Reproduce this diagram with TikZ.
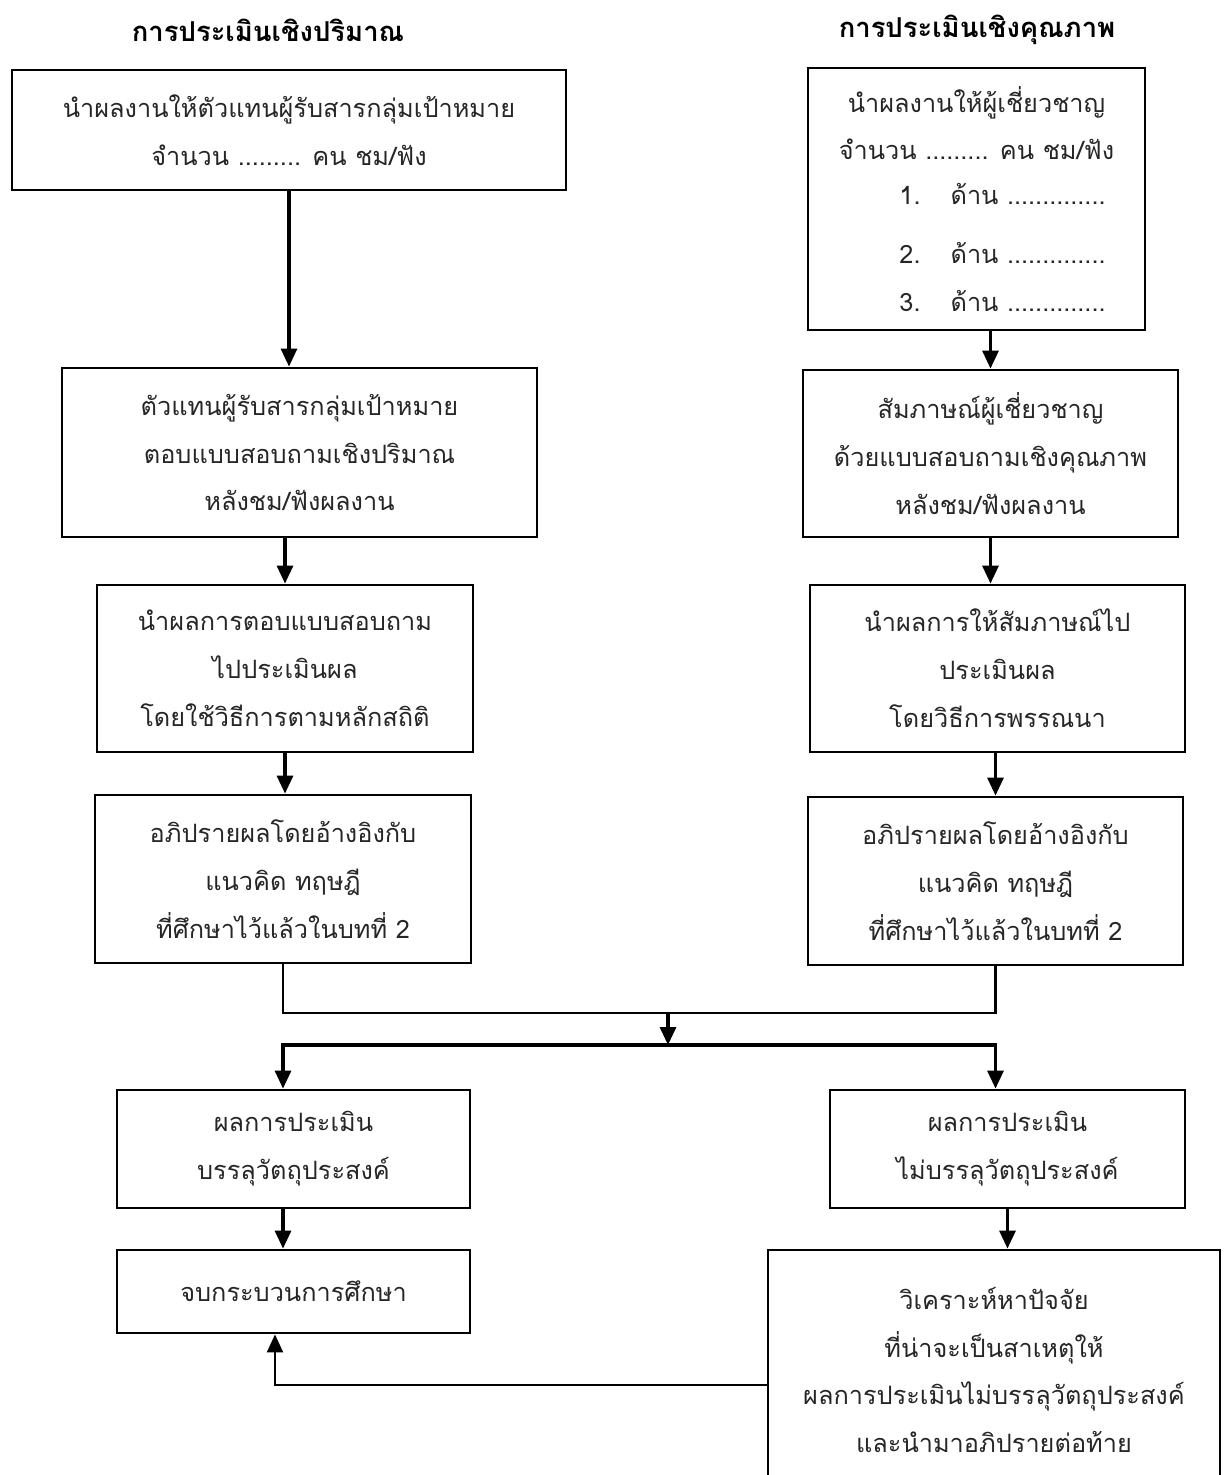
\documentclass[tikz,border=0pt]{standalone}
\usepackage{fontspec}
\setmainfont[Script=Thai]{Loma}
\usetikzlibrary{arrows.meta,positioning}
\tikzset{
  basic/.style  = {draw, line width=2pt, rectangle, inner sep=0pt},
  stepbox/.style = {basic, align=center, text=black!85,
                   font=\fontsize{18}{34}\selectfont},
  heading/.style = {font=\bfseries\fontsize{19.5}{22}\selectfont},
  link/.style = {line width=2.2pt},
  flow/.style = {link, -{Triangle[length=0.45cm,width=0.4cm]}}
}

\begin{document}
\begin{tikzpicture}[x=0.025cm,y=-0.025cm]
\useasboundingbox (0,0) rectangle (1227,1475);
\node[heading] (tq) at (268,30) {การประเมินเชิงปริมาณ};
\node[heading] (tl) at (977,30) {การประเมินเชิงคุณภาพ};
% left column
\node[stepbox, minimum width=13.85cm, minimum height=3cm] (L1) at (289,130)
  {นำผลงานให้ตัวแทนผู้รับสารกลุ่มเป้าหมาย\\จำนวน ......... คน ชม/ฟัง};
\node[stepbox, minimum width=11.875cm, minimum height=4.225cm] (L2) at (299.5,452.5)
  {ตัวแทนผู้รับสารกลุ่มเป้าหมาย\\ตอบแบบสอบถามเชิงปริมาณ\\หลังชม/ฟังผลงาน};
\node[stepbox, minimum width=9.4cm, minimum height=4.175cm] (L3) at (285,668.5)
  {นำผลการตอบแบบสอบถาม\\ไปประเมินผล\\โดยใช้วิธีการตามหลักสถิติ};
\node[stepbox, minimum width=9.4cm, minimum height=4.2cm] (L4) at (283,879)
  {อภิปรายผลโดยอ้างอิงกับ\\แนวคิด ทฤษฎี\\ที่ศึกษาไว้แล้วในบทที่ 2};
\node[stepbox, minimum width=8.825cm, minimum height=2.95cm] (L5) at (293.5,1149)
  {ผลการประเมิน\\บรรลุวัตถุประสงค์};
\node[stepbox, minimum width=8.825cm, minimum height=2.075cm] (L6) at (293.5,1291.5)
  {จบกระบวนการศึกษา};
% right column
\node[stepbox, minimum width=8.425cm, minimum height=6.55cm] (R1) at (976.5,199)
  {นำผลงานให้ผู้เชี่ยวชาญ\\จำนวน ......... คน ชม/ฟัง\\[-2pt]
   \hspace*{1.3cm}1.\hspace{0.75cm}ด้าน ..............\\[8pt]
   \hspace*{1.3cm}2.\hspace{0.75cm}ด้าน ..............\\
   \hspace*{1.3cm}3.\hspace{0.75cm}ด้าน ..............};
\node[stepbox, minimum width=9.375cm, minimum height=4.175cm] (R2) at (990.5,453.5)
  {สัมภาษณ์ผู้เชี่ยวชาญ\\ด้วยแบบสอบถามเชิงคุณภาพ\\หลังชม/ฟังผลงาน};
\node[stepbox, minimum width=9.375cm, minimum height=4.175cm] (R3) at (997.5,668.5)
  {นำผลการให้สัมภาษณ์ไป\\ประเมินผล\\โดยวิธีการพรรณนา};
\node[stepbox, minimum width=9.375cm, minimum height=4.2cm] (R4) at (995.5,881)
  {อภิปรายผลโดยอ้างอิงกับ\\แนวคิด ทฤษฎี\\ที่ศึกษาไว้แล้วในบทที่ 2};
\node[stepbox, minimum width=8.875cm, minimum height=2.95cm] (R5) at (1007.5,1149)
  {ผลการประเมิน\\ไม่บรรลุวัตถุประสงค์};
\node[stepbox, minimum width=11.3cm, minimum height=6cm] (R6) at (994,1370)
  {วิเคราะห์หาปัจจัย\\ที่น่าจะเป็นสาเหตุให้\\ผลการประเมินไม่บรรลุวัตถุประสงค์\\และนำมาอภิปรายต่อท้าย};
% junctions
\coordinate (join) at (668,1013);
\coordinate (split) at (668,1045);
\coordinate (back) at (275,1385);

\draw[flow] (L1.south) -- (L1.south |- L2.north);
\draw[flow] (L3.north |- L2.south) -- (L3.north);
\draw[flow] (L3.south) -- (L3.south |- L4.north);
\draw[flow] (R2.north |- R1.south) -- (R2.north);
\draw[flow] (R2.south) -- (R2.south |- R3.north);
\draw[flow] (R4.north |- R3.south) -- (R4.north);
\draw[link, line width=1.6pt] (L4.south) |- (join) -| (R4.south);
\draw[flow] (join) -- (split);
\draw[flow] (split) -| (L4.south |- L5.north);
\draw[flow] (split) -| (R4.south |- R5.north);
\draw[flow] (L4.south |- L5.south) -- (L4.south |- L6.north);
\draw[flow] (R5.south) -- (R5.south |- R6.north);
\draw[flow, line width=1.6pt] (R6.west |- back) -| (back |- L6.south);
\end{tikzpicture}
\end{document}
